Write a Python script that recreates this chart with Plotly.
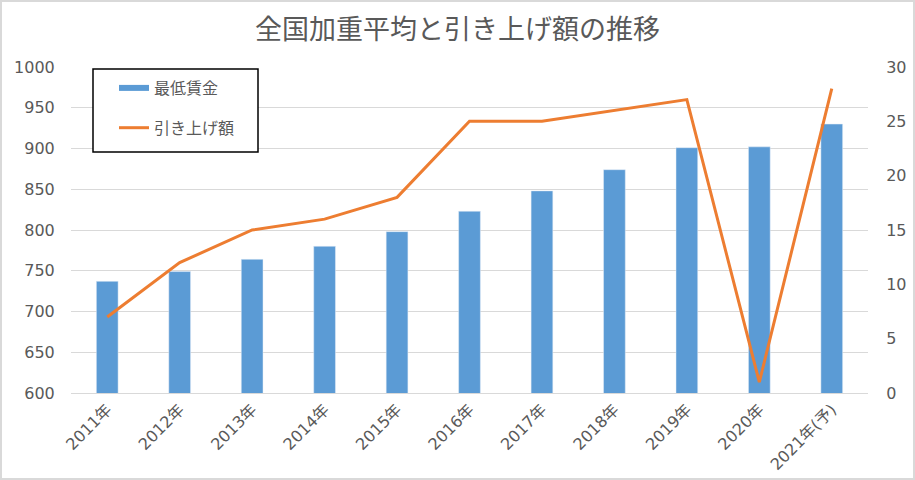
import plotly.graph_objects as go

years = ["2011年", "2012年", "2013年", "2014年", "2015年", "2016年", "2017年", "2018年", "2019年", "2020年", "2021年(予)"]
min_wage = [737, 749, 764, 780, 798, 823, 848, 874, 901, 902, 930]
increase = [7, 12, 15, 16, 18, 25, 25, 26, 27, 1, 28]

BLUE = "#5B9BD5"
ORANGE = "#ED7D31"
GRAY = "#595959"
FONT = "Noto Sans CJK JP, Noto Sans, sans-serif"
NUMFONT = "DejaVu Sans, Noto Sans CJK JP, sans-serif"

fig = go.Figure()
fig.add_trace(go.Bar(x=years, y=min_wage, marker_color=BLUE, name="最低賃金",
                     showlegend=False, yaxis="y"))
fig.add_trace(go.Scatter(x=years, y=increase, mode="lines", name="引き上げ額",
                         line=dict(color=ORANGE, width=3), yaxis="y2",
                         showlegend=False))
# legend entries (line-style swatches)
pad = "\u00a0" * 10
fig.add_trace(go.Scatter(x=[None], y=[None], mode="lines", name="最低賃金" + pad,
                         line=dict(color=BLUE, width=6), legendgroup="a"))
fig.add_trace(go.Scatter(x=[None], y=[None], mode="lines", name="引き上げ額" + pad,
                         line=dict(color=ORANGE, width=3), legendgroup="b", yaxis="y2"))

L, R, T, B = 71, 47, 67, 87
W, H = 915, 480
pw, ph = W - L - R, H - T - B

def px_x(x):
    return (x - L) / pw

def px_y(y):
    return (H - B - y) / ph

fig.update_layout(
    width=W, height=H,
    margin=dict(l=L, r=R, t=T, b=B, autoexpand=False),
    paper_bgcolor="white", plot_bgcolor="white",
    font=dict(family=FONT, color=GRAY, size=14),
    title=dict(text="全国加重平均と引き上げ額の推移", x=0.5, xanchor="center",
               y=1 - 30 / H, yanchor="middle",
               font=dict(size=27, color=GRAY, family=FONT)),
    bargap=0.7,
    xaxis=dict(tickangle=-45, showgrid=False, showline=True, linecolor="#D9D9D9",
               linewidth=1, tickfont=dict(size=16, color=GRAY, family=NUMFONT), ticks="",
               range=[-0.5, 10.5], automargin=False),
    yaxis=dict(range=[600, 1000], dtick=50, showgrid=True, gridcolor="#D9D9D9",
               gridwidth=1, zeroline=False, tickfont=dict(size=16, color=GRAY, family=NUMFONT),
               ticks="outside", ticklen=12, tickcolor="rgba(0,0,0,0)", automargin=False),
    yaxis2=dict(range=[0, 30], dtick=5, overlaying="y", side="right", showgrid=False,
                zeroline=False, tickfont=dict(size=16, color=GRAY, family=NUMFONT),
                ticks="outside", ticklen=14, tickcolor="rgba(0,0,0,0)", automargin=False),
    legend=dict(x=px_x(114), y=px_y(71), xanchor="left", yanchor="top",
                borderwidth=0, bgcolor="rgba(0,0,0,0)",
                font=dict(size=16, color=GRAY), traceorder="grouped",
                tracegroupgap=16),
    shapes=[
        dict(type="rect", xref="paper", yref="paper",
             x0=-(L - 1) / pw, x1=1 + (R - 1) / pw,
             y0=-(B - 1) / ph, y1=1 + (T - 1) / ph,
             line=dict(color="#D9D9D9", width=2), layer="below"),
        dict(type="rect", xref="paper", yref="paper",
             x0=px_x(93), x1=px_x(258), y0=px_y(152), y1=px_y(69),
             line=dict(color="black", width=1.5), fillcolor="white", layer="above"),
    ],
)

fig.write_html("out.html", config={"displayModeBar": False})
with open("out.html", encoding="utf-8") as f:
    html = f.read()
html = html.replace("<head>", "<head><style>html,body{margin:0;padding:0;overflow:hidden;}</style>", 1)
with open("out.html", "w", encoding="utf-8") as f:
    f.write(html)
